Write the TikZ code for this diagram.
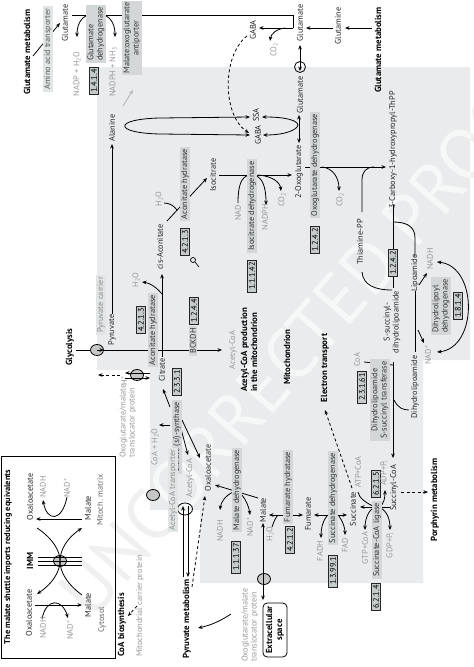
\documentclass[tikz,border=0pt]{standalone}
\usepackage{fontspec}
\setmainfont{PT Sans}
\usetikzlibrary{arrows.meta,shapes.geometric}
\pgfdeclarelayer{back}
\pgfdeclarelayer{conn}
\pgfsetlayers{back,conn,main}
\definecolor{bggray}{HTML}{E9EBEC}
\definecolor{labgray}{HTML}{D3D7D7}
\definecolor{ecgray}{HTML}{C6CBCB}
\definecolor{cofgray}{HTML}{989898}
\definecolor{trgray}{HTML}{8C8C8C}
\definecolor{trbox}{HTML}{E2E5E5}
\definecolor{metc}{HTML}{262626}
\tikzset{
 tx/.style={rotate=90, inner sep=1pt, font=\fontsize{8.3}{9.2}\selectfont},
 met/.style={tx, text=metc},
 cof/.style={tx, text=cofgray},
 enz/.style={tx, fill=labgray, text=black!80, inner xsep=2pt, inner ysep=1.4pt, align=center},
 ecn/.style={tx, fill=ecgray, draw=black!85, line width=0.7pt, inner xsep=2pt, inner ysep=1.2pt},
 trl/.style={tx, fill=trbox, text=trgray, inner xsep=2pt, inner ysep=1.4pt, align=center},
 pw/.style={tx, font=\fontsize{8.8}{10}\selectfont\bfseries, text=black, align=left},
 ln/.style={line width=0.8pt},
 dar/.style={->, line width=0.8pt, dash pattern=on 3pt off 2.5pt},
 tr/.style={ellipse, draw=black, line width=0.8pt, fill=black!22, minimum width=13pt, minimum height=11pt, inner sep=0pt},
 wmk/.style={rotate=49, font=\fontsize{72}{72}\selectfont},
}
\begin{document}
\begin{tikzpicture}[x=1pt,y=-1pt,>={Stealth[length=4.5pt,width=3.6pt]}]
\useasboundingbox (0,0) rectangle (474,667);
\begin{pgfonlayer}{back}
\fill[white] (0,0) rectangle (474,667);
\node[wmk, text=black!6] (wm1) at (306,338) {UNCORRECTED PROOF};
\fill[bggray] (97,67) -- (470,67) -- (470,360) -- (423,360) -- (423,583) -- (200,583) -- (200,510) -- (150,510) -- (150,370) -- (97,370) -- cycle;
\begin{scope}
\clip (97,67) -- (470,67) -- (470,360) -- (423,360) -- (423,583) -- (200,583) -- (200,510) -- (150,510) -- (150,370) -- (97,370) -- cycle;
\node[wmk, text=white, text opacity=0.6] (wm2) at (306,338) {UNCORRECTED PROOF};
\end{scope}
\end{pgfonlayer}

% ---------- nodes ----------
\node[pw] (gmL) at (27,52) {Glutamate metabolism};
\node[trl,text=black!65] (aat) at (48,49) {Amino acid transporter};
\node[met] (gluL) at (65,23) {Glutamate};
\node[enz,align=left] (gdh) at (96,34) {Glutamate\\dehydrogenase};
\node[ecn] (e1) at (94,81) {1.4.1.4};
\node[cof] (c1) at (77,74) {NADP + H\textsubscript{2}O};
\node[cof] (c2) at (113,72) {NADPH + NH\textsubscript{3}};
\node[enz] (antip) at (132,38) {Malate:oxoglutarate\\antiporter};

\node[met] (gluC) at (300,23) {Glutamate};
\node[met] (gabaC) at (253,30) {GABA};
\node[cof] (co2C) at (274,50) {CO\textsubscript{2}};
\node[met] (gln) at (338,26) {Glutamine};
\node[pw] (gmR) at (378,50) {Glutamate metabolism};
\node[circle,draw,line width=0.8pt,minimum size=11pt,inner sep=0pt] (gtr) at (300,67) {};
\node[met] (gluM) at (300,95) {Glutamate};
\node[met] (ssa) at (256,115) {SSA};
\node[met] (gabaM) at (258,135) {GABA};
\node[met] (ala) at (112,128) {Alanine};
\node[met] (oxo) at (299,172) {2-Oxoglutarate};

\node[met] (cisa) at (160,247) {cis-Aconitate};
\node[met] (cit) at (162,370) {Citrate};
\node[cof] (h2o1) at (136,280) {H\textsubscript{2}O};
\node[ecn] (e4213a) at (141,320) {4.2.1.3};
\node[enz] (aha) at (153,330) {Aconitate hydratase};
\node[cof] (h2o2) at (159,199) {H\textsubscript{2}O};
\node[enz] (ahb) at (185,184) {Aconitate hydratase};
\node[ecn] (e4213b) at (185,242) {4.2.1.3};
\node[met] (isoc) at (213,175) {Isocitrate};
\node[cof] (nad1) at (238,213) {NAD};
\node[cof] (nadph2) at (265,217) {NADPH};
\node[cof] (co2a) at (282,200) {CO\textsubscript{2}};
\node[enz] (idh) at (252,206) {Isocitrate dehydrogenase};
\node[ecn] (e11142) at (252,276) {1.1.1.42};

\node[enz] (ogdh) at (315,165) {Oxoglutarate dehydrogenase};
\node[ecn] (e1242a) at (315,240) {1.2.4.2};
\node[cof] (co2b) at (340,200) {CO\textsubscript{2}};
\node[met] (cthpp) at (393,150) {3-Carboxy-1-hydroxypropyl-ThPP};
\node[met] (thpp) at (360,242) {Thiamine-PP};
\node[ecn] (e1242b) at (393,263) {1.2.4.2};
\node[met,align=center] (ssdl) at (392,322) {S-succinyl-\\dihydrolipoamide};
\node[met] (lip) at (415,273) {Lipoamide};
\node[cof] (nadh1) at (430,259) {NADH};
\node[cof] (nadp1) at (428,355) {NAD\textsuperscript{+}};
\node[enz,align=left] (dld) at (441,306) {Dihydrolipoyl\\dehydrogenase};
\node[ecn] (e1814) at (458,306) {1.8.1.4};
\node[met] (dhl) at (415,387) {Dihydrolipoamide};
\node[cof] (coa1) at (357,360) {CoA};
\node[ecn] (e23161) at (362,387) {2.3.1.61};
\node[enz] (dst) at (380,400) {Dihydrolipoamide\\S-succinyl transferase};
\node[pw] (et) at (325,368) {Electron transport};

\node[met] (sucoa) at (394,488) {Succinyl-CoA};
\node[ecn] (e6215) at (376,484) {6.2.1.5};
\node[enz] (scl) at (377,540) {Succinate-CoA ligase};
\node[ecn] (e6214) at (376,597) {6.2.1.4};
\node[cof] (atp) at (358,472) {ATP+CoA};
\node[cof] (adp) at (384,473) {ADP+P\textsubscript{i}};
\node[cof] (gtp) at (365,548) {GTP+CoA};
\node[cof] (gdp) at (390,545) {GDP+P\textsubscript{i}};
\node[met] (suc) at (353,509) {Succinate};
\node[pw] (porph) at (435,500) {Porphyrin metabolism};
\node[enz] (sdh) at (333,498) {Succinate dehydrogenase};
\node[ecn] (e13991) at (333,571) {1.3.99.1};
\node[cof] (fadh) at (320,551) {FADH};
\node[cof] (fad) at (345,545) {FAD};
\node[met] (fum) at (308,514) {Fumarate};
\node[enz] (fh) at (288,487) {Fumarate hydratase};
\node[ecn] (e4212) at (290,540) {4.2.1.2};
\node[cof] (h2o3) at (270,534) {H\textsubscript{2}O};
\node[met] (mal) at (263,510) {Malate};
\node[enz] (mdh) at (237,490) {Malate dehydrogenase};
\node[ecn] (e11137) at (236,557) {1.1.1.37};
\node[cof] (nadh2) at (220,531) {NADH};
\node[cof] (nadp2) at (250,527) {NAD\textsuperscript{+}};
\node[met] (oaa) at (208,468) {Oxaloacetate};

\node[enz] (cs) at (177,437) {Citrate (\textit{si})-synthase};
\node[ecn] (e2331) at (177,382) {2.3.3.1};
\node[cof] (coah2o) at (155,447) {CoA + H\textsubscript{2}O};
\node[cof] (acoa2) at (190,478) {Acetyl-CoA};
\node[trl] (acoat) at (173,490) {Acetyl-CoA transporter};
\node[pw] (pyrm) at (187,619) {Pyruvate metabolism};
\node[cof,align=left] (omt2) at (250,625) {Oxoglutarate/malate\\translocator protein};
\node[tx, draw, rounded corners=4pt, line width=0.8pt, font=\fontsize{8.8}{10}\selectfont\bfseries, align=center, fill=white, inner sep=3pt] (ecs) at (275,630) {Extracellular\\space};

\node[pw] (gly) at (70,347) {Glycolysis};
\node[trl] (pcl) at (101,305) {Pyruvate carrier};
\node[met] (pyr) at (112,330) {Pyruvate};
\node[enz] (bckdh) at (193,341) {BCKDH};
\node[ecn] (e1244) at (194,311) {1.2.4.4};
\node[cof] (acoa1) at (233,350) {Acetyl-CoA};
\node[pw] (acprod) at (249,350) {Acetyl-CoA production\\in the mitochondrion};
\node[pw] (mito) at (287,357) {Mitochondrion};

\node[cof] (hplus) at (124,381) {H\textsuperscript{+}};
\node[cof,align=left] (omt1) at (128,421) {Oxoglutarate/malate\\translocator protein};
\node[cof] (mcpl) at (140,606) {Mitochondrial carrier protein};
\node[pw] (coab) at (122,625) {CoA biosynthesis};

% shuttle box
\draw[line width=0.9pt] (1,456) rectangle (115,658);
\node[pw, font=\fontsize{8.4}{10}\selectfont\bfseries] (title) at (8,557) {The malate shuttle imports reducing equivalents};
\node[met] (oaaU) at (30,497) {Oxaloacetate};
\node[cof] (nadhU) at (43,487) {NADH};
\node[cof] (nadU) at (67,488) {NAD\textsuperscript{+}};
\node[met] (malU) at (88,508) {Malate};
\node[met, text=black!60] (matrix) at (100,500) {Mitoch. matrix};
\node[pw] (imm) at (30,561) {IMM};
\node[met] (oaaD) at (29,613) {Oxaloacetate};
\node[cof] (nadhD) at (43,628) {NADH};
\node[cof] (nadD) at (70,630) {NAD\textsuperscript{+}};
\node[met] (malD) at (88,605) {Malate};
\node[met, text=black!60] (cyto) at (102,620) {Cytosol};

% ---------- connectors ----------
\begin{pgfonlayer}{conn}
\node[tr] (pc) at (97,350) {};
\node[tr] (omt1e) at (137,375) {};
\node[tr] (mcp) at (153,495) {};
\node[tr] (maltr) at (264,579) {};
\node[ellipse,draw,line width=0.8pt,minimum width=15pt,minimum height=12pt,inner sep=0pt] (acte) at (185,509) {};
\node[tr] (shut) at (60,561) {};

\draw[->,ln] (33,56) -- (60,23);
\draw[ln] (72,15) -- (293,15) -- (293,28);
\draw[->,ln] (88,15) .. controls (80,18) and (77,26) .. (77,37);
\draw[->,ln] (104,15) .. controls (112,18) and (115,26) .. (115,37);
\draw[->,ln,black!30] (123,106) -- (133,90);
\draw[->,ln] (293,28) -- (259,28);
\draw[->,ln] (285,28) .. controls (276,29) and (271,34) .. (270,41);
\draw[->,ln] (333,28) -- (306,28);
\draw[->,ln] (372,28) -- (345,28);
\draw[<->,ln] (300,45) -- (300,71);
\draw[<->,ln] (299,115) -- (299,143);
\draw[<->,ln] (250,117) -- (160,118) .. controls (113,119) and (113,133) .. (160,134) -- (250,135);
\draw[<->,ln] (262,117) .. controls (285,117) and (297,120) .. (298,125) .. controls (297,130) and (285,135) .. (263,135);
\draw[dar] (247,36) .. controls (222,55) and (222,115) .. (249,133);
\draw[->,ln] (112,314) -- (112,144);

\draw[->,ln] (162,357) -- (162,274);
\draw[->,ln] (162,294) .. controls (156,287) and (150,283) .. (142,282);
\draw[->,ln] (167,221) -- (207,178);
\draw[ln] (164,203) .. controls (170,203) and (174,206) .. (177,210);
\draw[->,ln] (219,175) -- (292,175);
\draw[ln] (238,203) .. controls (238,186) and (241,177) .. (249,175);
\draw[->,ln] (254,175) .. controls (262,177) and (266,186) .. (266,205);
\draw[->,ln] (258,175) .. controls (272,176) and (280,182) .. (281,191);
\draw[line width=0.7pt] (193,260) circle (2.5pt);
\draw[line width=0.7pt] (195,262) -- (199,267);

\draw[->,ln] (305,167) -- (386,167);
\draw[->,ln] (322,167) .. controls (333,168) and (339,178) .. (339,191);
\draw[ln] (362,212) -- (362,180) .. controls (362,172) and (366,167) .. (374,167);
\draw[ln] (393,205) -- (393,288);
\draw[ln] (415,256) -- (415,238) .. controls (415,226) and (406,222) .. (393,222);
\draw[ln] (362,272) .. controls (363,285) and (375,290) .. (392,290);
\draw[ln] (415,291) -- (415,352);
\draw[->,ln] (419,285) -- (427,273);
\draw[->,ln] (418,330) -- (424,343);
\draw[<->,ln] (437,352) .. controls (478,348) and (478,266) .. (437,262);
\draw[ln] (364,362) -- (393,365);
\draw[->,ln] (393,362) -- (393,458);
\draw[ln] (394,400) .. controls (398,408) and (403,410) .. (409,410);
\draw[dar] (352,488) -- (325,410);
\draw[dar] (401,492) -- (428,492);

\draw[->,ln] (390,507) -- (360,507);
\draw[->,ln] (375,507) .. controls (368,510) and (365,520) .. (365,530);
\draw[->,ln] (379,507) .. controls (386,510) and (390,518) .. (390,530);
\draw[ln] (375,507) .. controls (366,503) and (359,498) .. (358,492);
\draw[->,ln] (380,507) .. controls (384,503) and (385,498) .. (385,490);

\draw[<->,ln] (314,515) -- (347,515);
\draw[->,ln] (327,516) .. controls (322,522) and (321,530) .. (321,538);
\draw[->,ln] (339,516) .. controls (343,522) and (345,528) .. (345,535);
\draw[<->,ln] (269,515) -- (303,515);
\draw[ln] (272,527) .. controls (274,521) and (276,517) .. (278,515);
\draw[->,ln] (258,498) -- (215,485);
\draw[->,ln] (233,492) .. controls (225,496) and (221,502) .. (220,510);
\draw[->,ln] (242,495) .. controls (246,500) and (249,507) .. (250,515);
\draw[<->,ln] (263,523) -- (263,600);

\draw[->,ln] (170,407) -- (163,389);
\draw[->,ln] (170,425) -- (159,425);
\draw[->,ln] (182,420) -- (200,458);
\draw[->,ln] (180,425) -- (188,455);
\draw[->,ln] (183,577) -- (183,506);
\draw[->,ln] (188,506) -- (188,577);
\draw[dar] (192,587) -- (205,496);
\draw[->,ln] (231,614) .. controls (222,620) and (212,625) .. (198,628);
\draw[dar] (137,606) -- (128,616);

\draw[ln] (76,350) -- (pc);
\draw[->,ln] (pc.center) -- (104,350);
\draw[->,ln] (104,350) -- (222,350);
\draw[->,ln] (150,373) -- (125,373);
\draw[->,ln] (125,378) -- (150,378);
\draw[dar] (120,375) -- (98,375);

% shuttle
\draw[->,ln] (82,519) -- (36,519);
\draw[->,ln] (35,605) -- (82,605);
\draw[->,ln] (67,497) .. controls (62,522) and (47,522) .. (43,500);
\draw[->,ln] (42,619) .. controls (46,598) and (62,598) .. (68,618);
\draw[->,ln] (37,528) .. controls (52,538) and (60,550) .. (60,561) .. controls (60,572) and (52,584) .. (37,594);
\draw[->,ln] (82,595) .. controls (67,584) and (60,572) .. (60,561) .. controls (60,550) and (67,538) .. (82,528);
\draw[ln] (38,557) -- (82,557);
\draw[ln] (38,561) -- (82,561);
\draw[ln] (38,565) -- (82,565);
\end{pgfonlayer}
\end{tikzpicture}
\end{document}
